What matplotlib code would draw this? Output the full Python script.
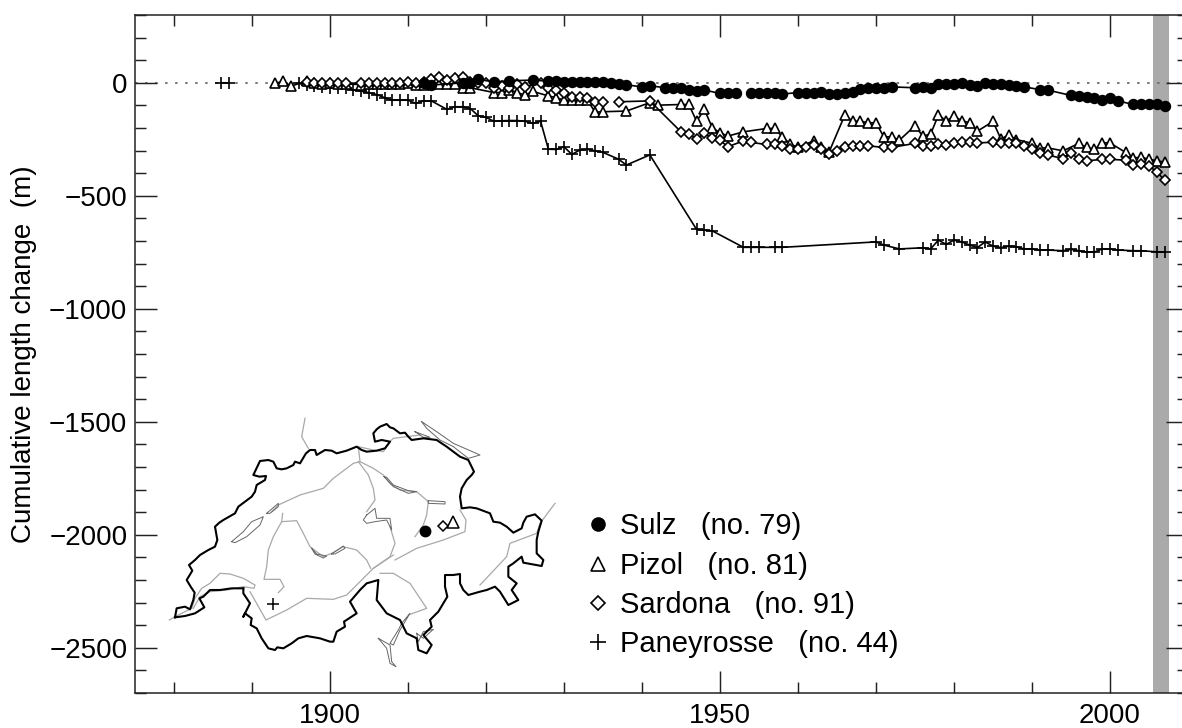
"""Cumulative length change of four Swiss glaciers, with location map inset."""
import numpy as np
import matplotlib
matplotlib.use("Agg")
import matplotlib.pyplot as plt
from matplotlib.lines import Line2D
from matplotlib.ticker import MultipleLocator

nan = float("nan")

# --- series, nan = break in the line ---
sulz_years = [1912, 1913, 1917, 1918, 1919, 1921, 1923, 1926, 1928, 1929, 1930, 1931, 1932, 1933, 1934,
              1935, 1936, 1937, 1938, 1940, 1941, 1943, 1944, 1945, 1946, 1947, 1948, 1950, 1951, 1952,
              1953, 1954, 1955, 1956, 1957, 1958, 1960, 1961, 1962, 1963, 1964, 1965, 1966, 1967, 1968,
              1969, 1970, 1971, 1972, 1975, 1976, 1977, 1978, 1979, 1980, 1981, 1982, 1983, 1984, 1985,
              1986, 1987, 1988, 1989, 1991, 1992, 1995, 1996, 1997, 1998, 1999, 2000, 2001, 2003, 2004,
              2005, 2006, 2007]
sulz_values = [0, -10, 0, 0, 15, 4, 9, 12, 7, 7, 4, 4, 4, 4, 3,
               3, -1, -7, -9, -18, -13, -22, -22, -22, -30, -35, -32, -47, -47, -47,
               nan, -47, -46, -43, -43, -50, -43, -43, -43, -41, -49, -49, -43, -41, -28,
               -25, -25, -24, -18, -22, -19, -21, -6, -7, -4, 0, -9, -13, 0, -6,
               -7, -10, -13, -18, -30, -32, -56, -59, -62, -69, -74, -69, -80, -96, -94,
               -93, -96, -103]

pizol_years = [1893, 1894, 1895, 1897, 1898, 1899, 1900, 1901, 1902, 1904, 1905, 1906, 1907, 1908, 1909,
               1910, 1911, 1912, 1913, 1914, 1915, 1916, 1917, 1918, 1921, 1922, 1923, 1924, 1925, 1926,
               1928, 1929, 1930, 1931, 1932, 1933, 1934, 1935, 1938, 1941, 1942, 1945, 1946, 1947, 1948,
               1949, 1950, 1951, 1953, 1956, 1957, 1958, 1959, 1960, 1962, 1963, 1964, 1966, 1967, 1968,
               1969, 1970, 1971, 1972, 1973, 1975, 1976, 1977, 1978, 1979, 1980, 1981, 1982, 1983, 1985,
               1986, 1987, 1988, 1990, 1991, 1992, 1994, 1996, 1997, 1998, 1999, 2000, 2002, 2003, 2004,
               2005, 2006, 2007]
pizol_values = [-3, 7, -15, 8, -3, -5, -3, -5, -5, -8, -6, -6, -5, -6, -5,
                -3, -10, -8, -6, -4, -6, -5, -22, -22, -43, -43, -30, -43, -55, -38,
                -58, -66, -77, -77, -77, -77, -130, -128, -125, -88, -99, -96, -96, -170, -118,
                -198, -221, -236, -217, -202, -202, -239, -271, -286, -257, -286, -305, -143, -170, -170,
                -177, -177, -239, -239, -254, -190, -236, -227, -143, -168, -148, -168, -177, -214, -171,
                -248, -232, -251, -268, -288, -288, -301, -268, -286, -295, -266, -266, -308, -332, -330,
                -338, -345, -351]

sardona_years = [1897, 1898, 1899, 1900, 1901, 1902, 1904, 1905, 1906, 1907, 1908, 1909, 1910, 1911, 1912,
                 1913, 1914, 1915, 1916, 1917, 1918, 1919, 1920, 1921, 1922, 1923, 1924, 1925, 1927, 1928,
                 1929, 1930, 1931, 1932, 1933, 1934, 1935, 1936, 1937, 1941, 1945, 1946, 1947, 1948, 1949,
                 1950, 1951, 1953, 1954, 1956, 1957, 1958, 1959, 1960, 1961, 1962, 1963, 1964, 1965, 1966,
                 1967, 1968, 1969, 1971, 1972, 1975, 1976, 1977, 1978, 1979, 1980, 1981, 1982, 1983, 1985,
                 1986, 1987, 1988, 1989, 1990, 1991, 1992, 1994, 1995, 1996, 1997, 1999, 2000, 2002, 2003,
                 2004, 2005, 2006, 2007]
sardona_values = [3, 0, -3, -3, -3, -3, 0, 0, 0, 0, 0, 0, 3, 0, 5,
                  16, 27, 12, 22, 24, 5, -3, 1, -25, -13, -25, -6, -18, -3, -25,
                  -32, -47, -62, -62, -69, -87, -84, nan, -84, -80, -217, -227, -249, -224, -246,
                  -254, -283, -257, -264, -273, -271, -280, -291, -295, -286, -276, -295, -313, -301, -283,
                  -279, -279, -279, -286, -286, -268, -279, -279, -273, -274, -268, -263, -264, -266, -263,
                  -266, -266, -268, -280, -291, -310, -320, -335, -310, -338, -345, -339, -339, -342, -364,
                  -360, -369, -394, -431]

paneyrosse_years = [1886, 1887, 1891, 1896, 1897, 1898, 1899, 1900, 1901, 1902, 1903, 1904, 1905, 1906, 1907,
                    1908, 1909, 1910, 1911, 1912, 1913, 1915, 1916, 1917, 1918, 1919, 1920, 1921, 1922, 1923,
                    1924, 1925, 1926, 1927, 1928, 1929, 1930, 1931, 1932, 1933, 1934, 1935, 1937, 1938, 1941,
                    1947, 1948, 1949, 1953, 1954, 1955, 1957, 1958, 1970, 1971, 1973, 1976, 1977, 1978, 1979,
                    1980, 1981, 1982, 1983, 1984, 1985, 1986, 1987, 1988, 1989, 1990, 1991, 1992, 1994, 1995,
                    1996, 1997, 1998, 1999, 2000, 2001, 2003, 2004, 2006, 2007]
paneyrosse_values = [0, 0, nan, -3, -10, -15, -18, -21, -24, -25, -32, -37, -44, -52, -66,
                     -77, -77, -77, -91, -80, -80, -118, -106, -106, -114, -146, -153, -170, -168, -167,
                     -167, -170, -180, -170, -294, -295, -283, -317, -298, -294, -301, -308, -338, -364, -319,
                     -649, -652, -655, -728, -728, -728, -728, -728, -704, -718, -735, -730, -735, -696, -715,
                     -696, -704, -718, -729, -704, -723, -729, -723, -726, -735, -735, -740, -740, -743, -737,
                     -743, -749, -749, -735, -735, -740, -743, -743, -748, -748]

legend_names = ["Sulz   (no. 79)", "Pizol   (no. 81)", "Sardona   (no. 91)", "Paneyrosse   (no. 44)"]
band_years = [2005.5, 2007.5]
x_labels = [1900, 1950, 2000]
y_labels = [0, -500, -1000, -1500, -2000, -2500]

# --- map of Switzerland, traced in picture units (x right, y down) ---
border_x = [45, 50, 75, 90, 100, 104, 92, 80, 97, 87, 105, 120, 145, 165, 172, 165, 178, 190, 225, 235, 255, 275, 285, 290, 315, 318, 298, 280, 300, 325, 340, 350, 365, 380, 400, 405, 420, 438, 450, 465, 470, 495, 515, 530, 560, 590, 605, 620, 650, 675, 690, 665, 645, 640, 650, 660, 680, 690, 700, 720, 735, 745, 755, 790, 830, 860, 900, 925, 942, 935, 920, 905, 900, 905, 930, 950, 990, 1000, 1020, 1040, 1060, 1085, 1090, 1100, 1125, 1145, 1135, 1130, 1130, 1150, 1145, 1090, 1085, 1060, 1045, 1045, 1070, 1055, 1075, 1045, 1020, 1005, 980, 960, 925, 910, 900, 900, 880, 855, 855, 862, 835, 810, 815, 790, 815, 800, 775, 770, 740, 720, 680, 650, 655, 620, 600, 570, 590, 575, 552, 555, 530, 520, 510, 480, 440, 415, 395, 370, 352, 345, 325, 305, 290, 272, 275, 255, 250, 270, 250, 250]
border_y = [652, 625, 620, 628, 600, 578, 560, 540, 512, 495, 480, 465, 450, 440, 420, 380, 368, 360, 340, 320, 305, 290, 275, 255, 240, 228, 230, 225, 183, 180, 185, 205, 208, 205, 195, 185, 190, 160, 150, 150, 165, 150, 152, 160, 152, 140, 150, 155, 152, 145, 125, 120, 125, 100, 88, 80, 72, 82, 85, 100, 98, 110, 120, 115, 120, 140, 170, 180, 215, 225, 240, 265, 290, 325, 322, 325, 340, 365, 368, 380, 398, 385, 368, 350, 343, 362, 395, 420, 460, 480, 498, 488, 470, 490, 500, 530, 550, 570, 600, 615, 575, 560, 570, 575, 585, 570, 550, 522, 525, 525, 560, 590, 635, 660, 680, 705, 735, 760, 750, 715, 700, 660, 640, 600, 540, 550, 570, 605, 640, 650, 665, 680, 695, 725, 725, 715, 708, 715, 730, 745, 742, 750, 745, 715, 685, 675, 655, 640, 650, 610, 580, 565]
geneva_x = [250, 215, 180, 150, 130, 118, 133, 105, 75, 45]
geneva_y = [565, 565, 570, 570, 590, 595, 622, 640, 648, 652]

rivers = [
    ([28, 45, 95, 105, 125, 150, 180, 210, 250, 285, 282, 250, 200, 150, 120, 100],
     [660, 650, 625, 595, 565, 550, 520, 522, 535, 555, 565, 560, 570, 575, 590, 625]),
    ([270, 318, 380, 440, 520, 560, 640, 700], [575, 660, 630, 595, 598, 585, 505, 465]),
    ([705, 770, 850, 915, 918, 900], [480, 445, 420, 395, 360, 330]),
    ([1185, 1140, 1130, 1050, 1040, 960], [310, 370, 400, 430, 470, 555]),
    ([660, 700, 750, 800, 745], [520, 520, 550, 625, 645]),
    ([368, 365, 340, 325, 320, 312, 360, 372, 355], [340, 365, 410, 450, 500, 538, 538, 560, 578]),
    ([365, 410, 430, 450, 490, 515, 550, 590, 620, 632], [365, 362, 400, 440, 470, 460, 440, 450, 480, 505]),
    ([595, 600, 580, 520, 490, 420, 355, 335], [140, 185, 190, 235, 265, 285, 315, 335]),
    ([595, 625, 640, 645, 620], [185, 225, 265, 300, 335]),
    ([600, 640, 670, 690, 720, 770, 805, 800, 790, 765], [185, 205, 225, 250, 270, 275, 305, 345, 375, 410]),
    ([690, 705, 690, 640], [380, 430, 470, 505]),
    ([435, 425, 445], [55, 110, 145]),
    ([595, 640, 670, 690, 700, 780], [140, 150, 155, 125, 115, 105]),
]
lakes = [
    ([215, 250, 275, 310, 300, 260, 225, 215], [425, 395, 365, 350, 375, 410, 428, 425]),
    ([320, 355, 355, 330, 320], [340, 310, 320, 340, 340]),
    ([455, 470, 500, 490, 465, 455], [445, 462, 468, 474, 462, 445]),
    ([515, 550, 555, 525, 515], [462, 438, 445, 462, 462]),
    ([672, 700, 745, 770, 745, 700, 680, 672], [230, 260, 280, 275, 272, 255, 232, 230]),
    ([805, 855, 855, 805, 805], [302, 305, 312, 310, 302]),
    ([620, 645, 650, 690, 695, 680, 645, 620, 610, 620], [345, 325, 355, 355, 390, 360, 365, 370, 360, 345]),
    ([785, 830, 880, 960, 925, 880, 840, 800, 785], [65, 95, 130, 165, 175, 140, 120, 85, 65]),
    ([765, 810, 790, 765], [95, 112, 112, 95]),
    ([655, 690, 695, 708, 690, 680, 655], [715, 735, 785, 800, 790, 745, 715]),
    ([725, 750, 720, 700, 690, 715, 725], [670, 640, 690, 735, 730, 690, 670]),
    ([770, 790, 820, 790, 775, 770], [700, 715, 688, 695, 725, 700]),
]
site_x = [796, 880, 848, 340]
site_y = [393, 365, 377, 613]

W, H = 1182, 728
plt.rcParams["font.family"] = ["Liberation Sans", "DejaVu Sans"]
fig = plt.figure(figsize=(W / 100, H / 100), dpi=100)
ax = fig.add_axes([135 / W, 35 / H, 1053 / W, 678 / H])
ax.set_xlim(1875, 2010)
ax.set_ylim(-2700, 300)

ax.axvspan(band_years[0], band_years[1], color="#aaaaaa", lw=0, zorder=1)
ax.axhline(0, color="#707070", lw=1.3, ls=(0, (1.4, 4.15)), zorder=1.5)

marker_line = dict(color="black", lw=1.2, mec="black", mfc="white", mew=1.2, zorder=3)
ax.plot(paneyrosse_years, paneyrosse_values, marker="+", ms=8.5, **marker_line)
ax.plot(pizol_years, pizol_values, marker="^", ms=7.9, **marker_line)
ax.plot(sardona_years, sardona_values, marker="D", ms=5.0, **marker_line)
ax.plot(sulz_years, sulz_values, color="black", lw=1.2, marker="o", ms=7.2, mfc="black", mec="black", zorder=3)

ax.xaxis.set_major_locator(MultipleLocator(50))
ax.xaxis.set_minor_locator(MultipleLocator(10))
ax.yaxis.set_major_locator(MultipleLocator(500))
ax.yaxis.set_minor_locator(MultipleLocator(100))
ax.set_xticks(x_labels)
ax.set_yticks(y_labels)
ax.set_yticklabels([str(v).replace("-", "\u2212") for v in y_labels])
ax.tick_params(which="both", direction="in", top=True, right=True, width=1.05, color="#222222")
ax.tick_params(which="major", length=15.5, labelsize=20)
ax.tick_params(which="minor", length=7.8)
ax.tick_params(axis="x", which="major", pad=7.5)
ax.tick_params(axis="y", which="major", pad=5.5)
for s in ax.spines.values():
    s.set_linewidth(1.1)
    s.set_color("#222222")
ax.set_ylabel("Cumulative length change  (m)", fontsize=20, labelpad=9)

handles = [
    Line2D([], [], ls="none", marker="o", ms=9.5, mfc="black", mec="black"),
    Line2D([], [], ls="none", marker="^", ms=10.5, mfc="white", mec="black", mew=1.2),
    Line2D([], [], ls="none", marker="D", ms=7.3, mfc="white", mec="black", mew=1.2),
    Line2D([], [], ls="none", marker="+", ms=11, mec="black", mew=1.2),
]
ax.legend(handles, legend_names, loc="lower left", bbox_to_anchor=((583 - 135) / 1053, (693 - 658.5) / 678),
          frameon=False, fontsize=21, numpoints=1, labelspacing=0.39, handlelength=1.0,
          handletextpad=0.27, borderpad=0, borderaxespad=0)

# inset map, in the picture units of the traced arrays
inset = fig.add_axes([160 / W, (H - 680) / H, 420 / W, 280 / H])
inset.set_xlim(0, 1260)
inset.set_ylim(840, 0)
inset.axis("off")
for xs, ys in rivers:
    inset.plot(xs, ys, color="#a8a8a8", lw=0.9, zorder=1)
for xs, ys in lakes:
    inset.plot(xs, ys, color="#666666", lw=0.7, zorder=1.2)
inset.plot(border_x, border_y, color="black", lw=1.5, zorder=2)
inset.plot(geneva_x, geneva_y, color="black", lw=1.5, zorder=2)
inset.plot(site_x[0], site_y[0], "o", ms=7.5, mfc="black", mec="black", zorder=3)
inset.plot(site_x[1], site_y[1], "^", ms=9, mfc="white", mec="black", mew=1.1, zorder=3)
inset.plot(site_x[2], site_y[2], "D", ms=5.5, mfc="white", mec="black", mew=1.1, zorder=3)
inset.plot(site_x[3], site_y[3], "+", ms=8, mec="black", mew=1.1, zorder=3)

fig.savefig("out.png", dpi=100)
